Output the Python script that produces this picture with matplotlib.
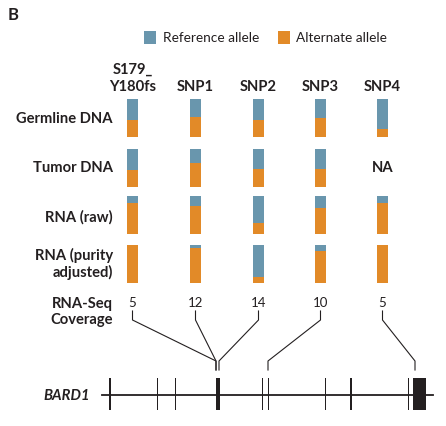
import matplotlib
matplotlib.use('Agg')
import matplotlib.pyplot as plt

# allele fractions (alternate allele share of each bar)
columns = ['S179_\nY180fs', 'SNP1', 'SNP2', 'SNP3', 'SNP4']
row_labels = ['Germline DNA', 'Tumor DNA', 'RNA (raw)', 'RNA (purity\nadjusted)']
germline_alt = [0.44, 0.53, 0.44, 0.50, 0.21]
tumor_alt = [0.45, 0.63, 0.48, 0.48, None]
rna_raw_alt = [0.81, 0.74, 0.28, 0.69, 0.82]
rna_adj_alt = [1.0, 0.93, 0.16, 0.83, 1.0]
coverage = [5, 12, 14, 10, 5]

# BARD1 gene structure (exon centers / widths along the gene line)
exon_x = [110, 157, 175, 217.5, 262, 268, 325, 351, 408, 419.5]
exon_w = [2, 1, 1, 4, 1, 1, 1, 2, 1, 13]
snp_exon = [216, 216, 219, 268, 415]

BLUE = '#6996ad'
ORANGE = '#e28a28'
DARK = '#231f20'
FONT = 'Lato'
FS = 10.6

fig = plt.figure(figsize=(4.46, 4.27), dpi=100)
ax = fig.add_axes([0, 0, 1, 1])
ax.set_xlim(0, 446)
ax.set_ylim(427, 0)
ax.axis('off')

col_x = [132.5, 195.5, 258.5, 320.5, 382.5]
row_top = [100, 150, 197, 246]
row_label_y = [119, 168, 217, 264]
bar_h = 38
bar_w = 11

ax.text(8, 15, 'B', fontsize=12, fontweight='bold', family=FONT, color=DARK, va='center')

# legend
ax.bar(150, 13, bottom=32, width=12, color=BLUE)
ax.text(163, 38.5, 'Reference allele', fontsize=9.8, family=FONT, color=DARK, va='center')
ax.bar(284, 13, bottom=32, width=12, color=ORANGE)
ax.text(296, 38.5, 'Alternate allele', fontsize=9.8, family=FONT, color=DARK, va='center')

for x, name in zip(col_x, columns):
    lines = name.split('\n')
    for k, line in enumerate(reversed(lines)):
        ax.text(x, 91 - 17 * k, line, fontsize=FS, fontweight='bold', family=FONT,
                color=DARK, ha='center', va='baseline')

for i, vals in enumerate([germline_alt, tumor_alt, rna_raw_alt, rna_adj_alt]):
    ax.text(113, row_label_y[i], row_labels[i], fontsize=FS, fontweight='bold', family=FONT,
            color=DARK, ha='right', va='center', multialignment='right', linespacing=1.1)
    for x, alt in zip(col_x, vals):
        if alt is None:
            ax.text(x, row_label_y[i], 'NA', fontsize=FS, fontweight='bold', family=FONT,
                    color=DARK, ha='center', va='center')
            continue
        ref_h = (1 - alt) * bar_h
        ax.bar(x, ref_h, bottom=row_top[i], width=bar_w, color=BLUE)
        ax.bar(x, alt * bar_h, bottom=row_top[i] + ref_h, width=bar_w, color=ORANGE)

ax.text(113, 312, 'RNA-Seq\nCoverage', fontsize=FS, fontweight='bold', family=FONT,
        color=DARK, ha='right', va='center', multialignment='right', linespacing=1.1)

for x, cov, tx in zip(col_x, coverage, snp_exon):
    ax.text(x, 303, str(cov), fontsize=9.5, family=FONT, color=DARK, ha='center', va='center')
    ax.plot([x, x, tx, tx], [312, 321, 362, 371], color=DARK, lw=0.8)

# gene line with exons
ax.plot([102, 433], [396, 396], color=DARK, lw=1.3)
ax.bar(exon_x, 32, bottom=379, width=exon_w, color=DARK)
ax.text(90, 396, 'BARD1', fontsize=FS, fontweight='bold', style='italic', family=FONT,
        color=DARK, ha='right', va='center')

fig.savefig('out.png', dpi=100)
